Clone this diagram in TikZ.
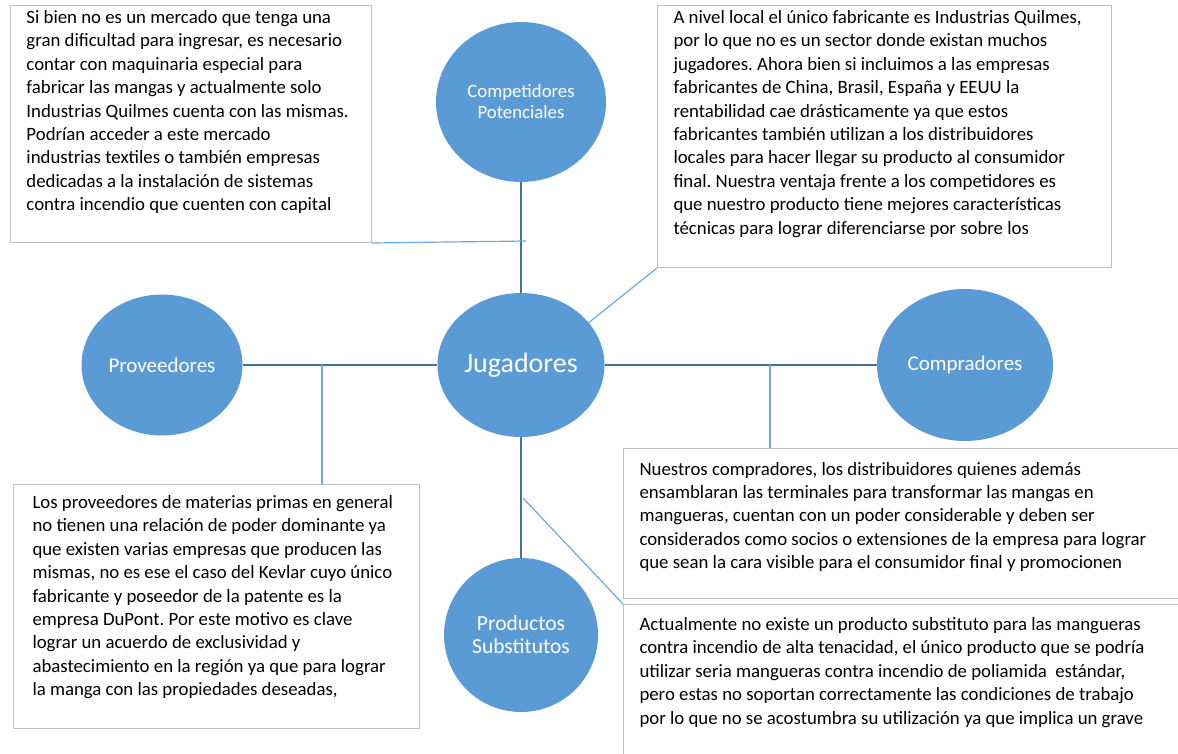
\documentclass[tikz,border=0pt]{standalone}
\usepackage{fontspec}
\setmainfont{Carlito}
\usepackage{tikz}
\usetikzlibrary{shapes.geometric}

\definecolor{relleno}{HTML}{5B9BD5}
\definecolor{enlace}{HTML}{41719C}
\definecolor{guia}{HTML}{6FA8DC}
\definecolor{borde}{HTML}{BFBFBF}

\newcommand{\cuerpo}{\fontsize{18.8pt}{23.4pt}\selectfont\frenchspacing}

\begin{document}
\begin{tikzpicture}[x=1pt,y=-1pt]
\useasboundingbox (0,0) rectangle (1178,753);
\clip (0,0) rectangle (1178,753);
\begin{scope}[circulo/.style={ellipse,fill=relleno,text=white,align=center,inner sep=0pt},
    caja/.style={draw=borde,line width=1pt,rectangle,inner sep=0pt,anchor=north west,font=\cuerpo},
    fuerte/.style={draw=enlace,line width=2.2pt},
    fino/.style={draw=guia,line width=1.2pt}]

    \node[circulo,minimum width=170pt,minimum height=160pt,font=\fontsize{18.8pt}{21pt}\selectfont] (comp) at (521,102) {Competidores\\Potenciales};
    \node[circulo,minimum width=167pt,minimum height=144pt,font=\fontsize{28pt}{32pt}\selectfont] (jug) at (521,365) {Jugadores};
    \node[circulo,minimum width=161pt,minimum height=141pt,font=\fontsize{21pt}{24pt}\selectfont] (prov) at (162,365) {Proveedores};
    \node[circulo,minimum width=176pt,minimum height=152pt,font=\fontsize{21pt}{24pt}\selectfont] (compr) at (965,365) {Compradores};
    \node[circulo,minimum width=154pt,minimum height=154pt,font=\fontsize{21.5pt}{23pt}\selectfont] (prod) at (521,635) {Productos\\Substitutos};

    \node[caja] (tComp) at (10,5) {\parbox[t][237pt][t]{361pt}{\raggedright\leftskip=16pt\rule{0pt}{18pt}Si bien no es un mercado que tenga una\\
gran dificultad para ingresar, es necesario\\
contar con maquinaria especial para\\
fabricar las mangas y actualmente solo\\
Industrias Quilmes cuenta con las mismas.\\
Podrían acceder a este mercado\\
industrias textiles o también empresas\\
dedicadas a la instalación de sistemas\\
contra incendio que cuenten con capital}};
    \node[caja] (tJug) at (657,5) {\parbox[t][262pt][t]{454pt}{\raggedright\leftskip=16pt\rule{0pt}{18pt}A nivel local el único fabricante es Industrias Quilmes,\\
por lo que no es un sector donde existan muchos\\
jugadores. Ahora bien si incluimos a las empresas\\
fabricantes de China, Brasil, España y EEUU la\\
rentabilidad cae drásticamente ya que estos\\
fabricantes también utilizan a los distribuidores\\
locales para hacer llegar su producto al consumidor\\
final. Nuestra ventaja frente a los competidores es\\
que nuestro producto tiene mejores características\\
técnicas para lograr diferenciarse por sobre los}};
    \node[caja] (tProv) at (13,484) {\parbox[t][244pt][t]{406pt}{\raggedright\leftskip=19pt\rule{0pt}{24pt}Los proveedores de materias primas en general\\
no tienen una relación de poder dominante ya\\
que existen varias empresas que producen las\\
mismas, no es ese el caso del Kevlar cuyo único\\
fabricante y poseedor de la patente es la\\
empresa DuPont. Por este motivo es clave\\
lograr un acuerdo de exclusividad y\\
abastecimiento en la región ya que para lograr\\
la manga con las propiedades deseadas,}};
    \node[caja] (tCompr) at (623,448) {\parbox[t][150pt][t]{580pt}{\raggedright\leftskip=16pt\rule{0pt}{26.5pt}Nuestros compradores, los distribuidores quienes además\\
ensamblaran las terminales para transformar las mangas en\\
mangueras, cuentan con un poder considerable y deben ser\\
considerados como socios o extensiones de la empresa para lograr\\
que sean la cara visible para el consumidor final y promocionen}};
    \node[caja] (tProd) at (623,604) {\parbox[t][170pt][t]{580pt}{\raggedright\leftskip=16pt\rule{0pt}{26pt}Actualmente no existe un producto substituto para las mangueras\\
contra incendio de alta tenacidad, el único producto que se podría\\
utilizar seria mangueras contra incendio de poliamida~ estándar,\\
pero estas no soportan correctamente las condiciones de trabajo\\
por lo que no se acostumbra su utilización ya que implica un grave}};

    \draw[fuerte] (comp.south) -- (jug.north);
    \draw[fuerte] (jug.west) -- (prov.east);
    \draw[fuerte] (jug.east) -- (compr.west);
    \draw[fuerte] (jug.south) -- (prod.north);

    \coordinate (pComp) at (526,241);
    \coordinate (pProv) at (322,365);
    \coordinate (pCompr) at (770,365);
    \coordinate (pProd) at (523,498);
    \draw[fino] (tComp.south east) -- (pComp);
    \draw[fino] (jug.32) -- (tJug.south west);
    \draw[fino] (pProv) -- (pProv |- tProv.north);
    \draw[fino] (pCompr) -- (pCompr |- tCompr.north);
    \draw[fino] (pProd) -- (tProd.north west);

\end{scope}
\end{tikzpicture}
\end{document}
